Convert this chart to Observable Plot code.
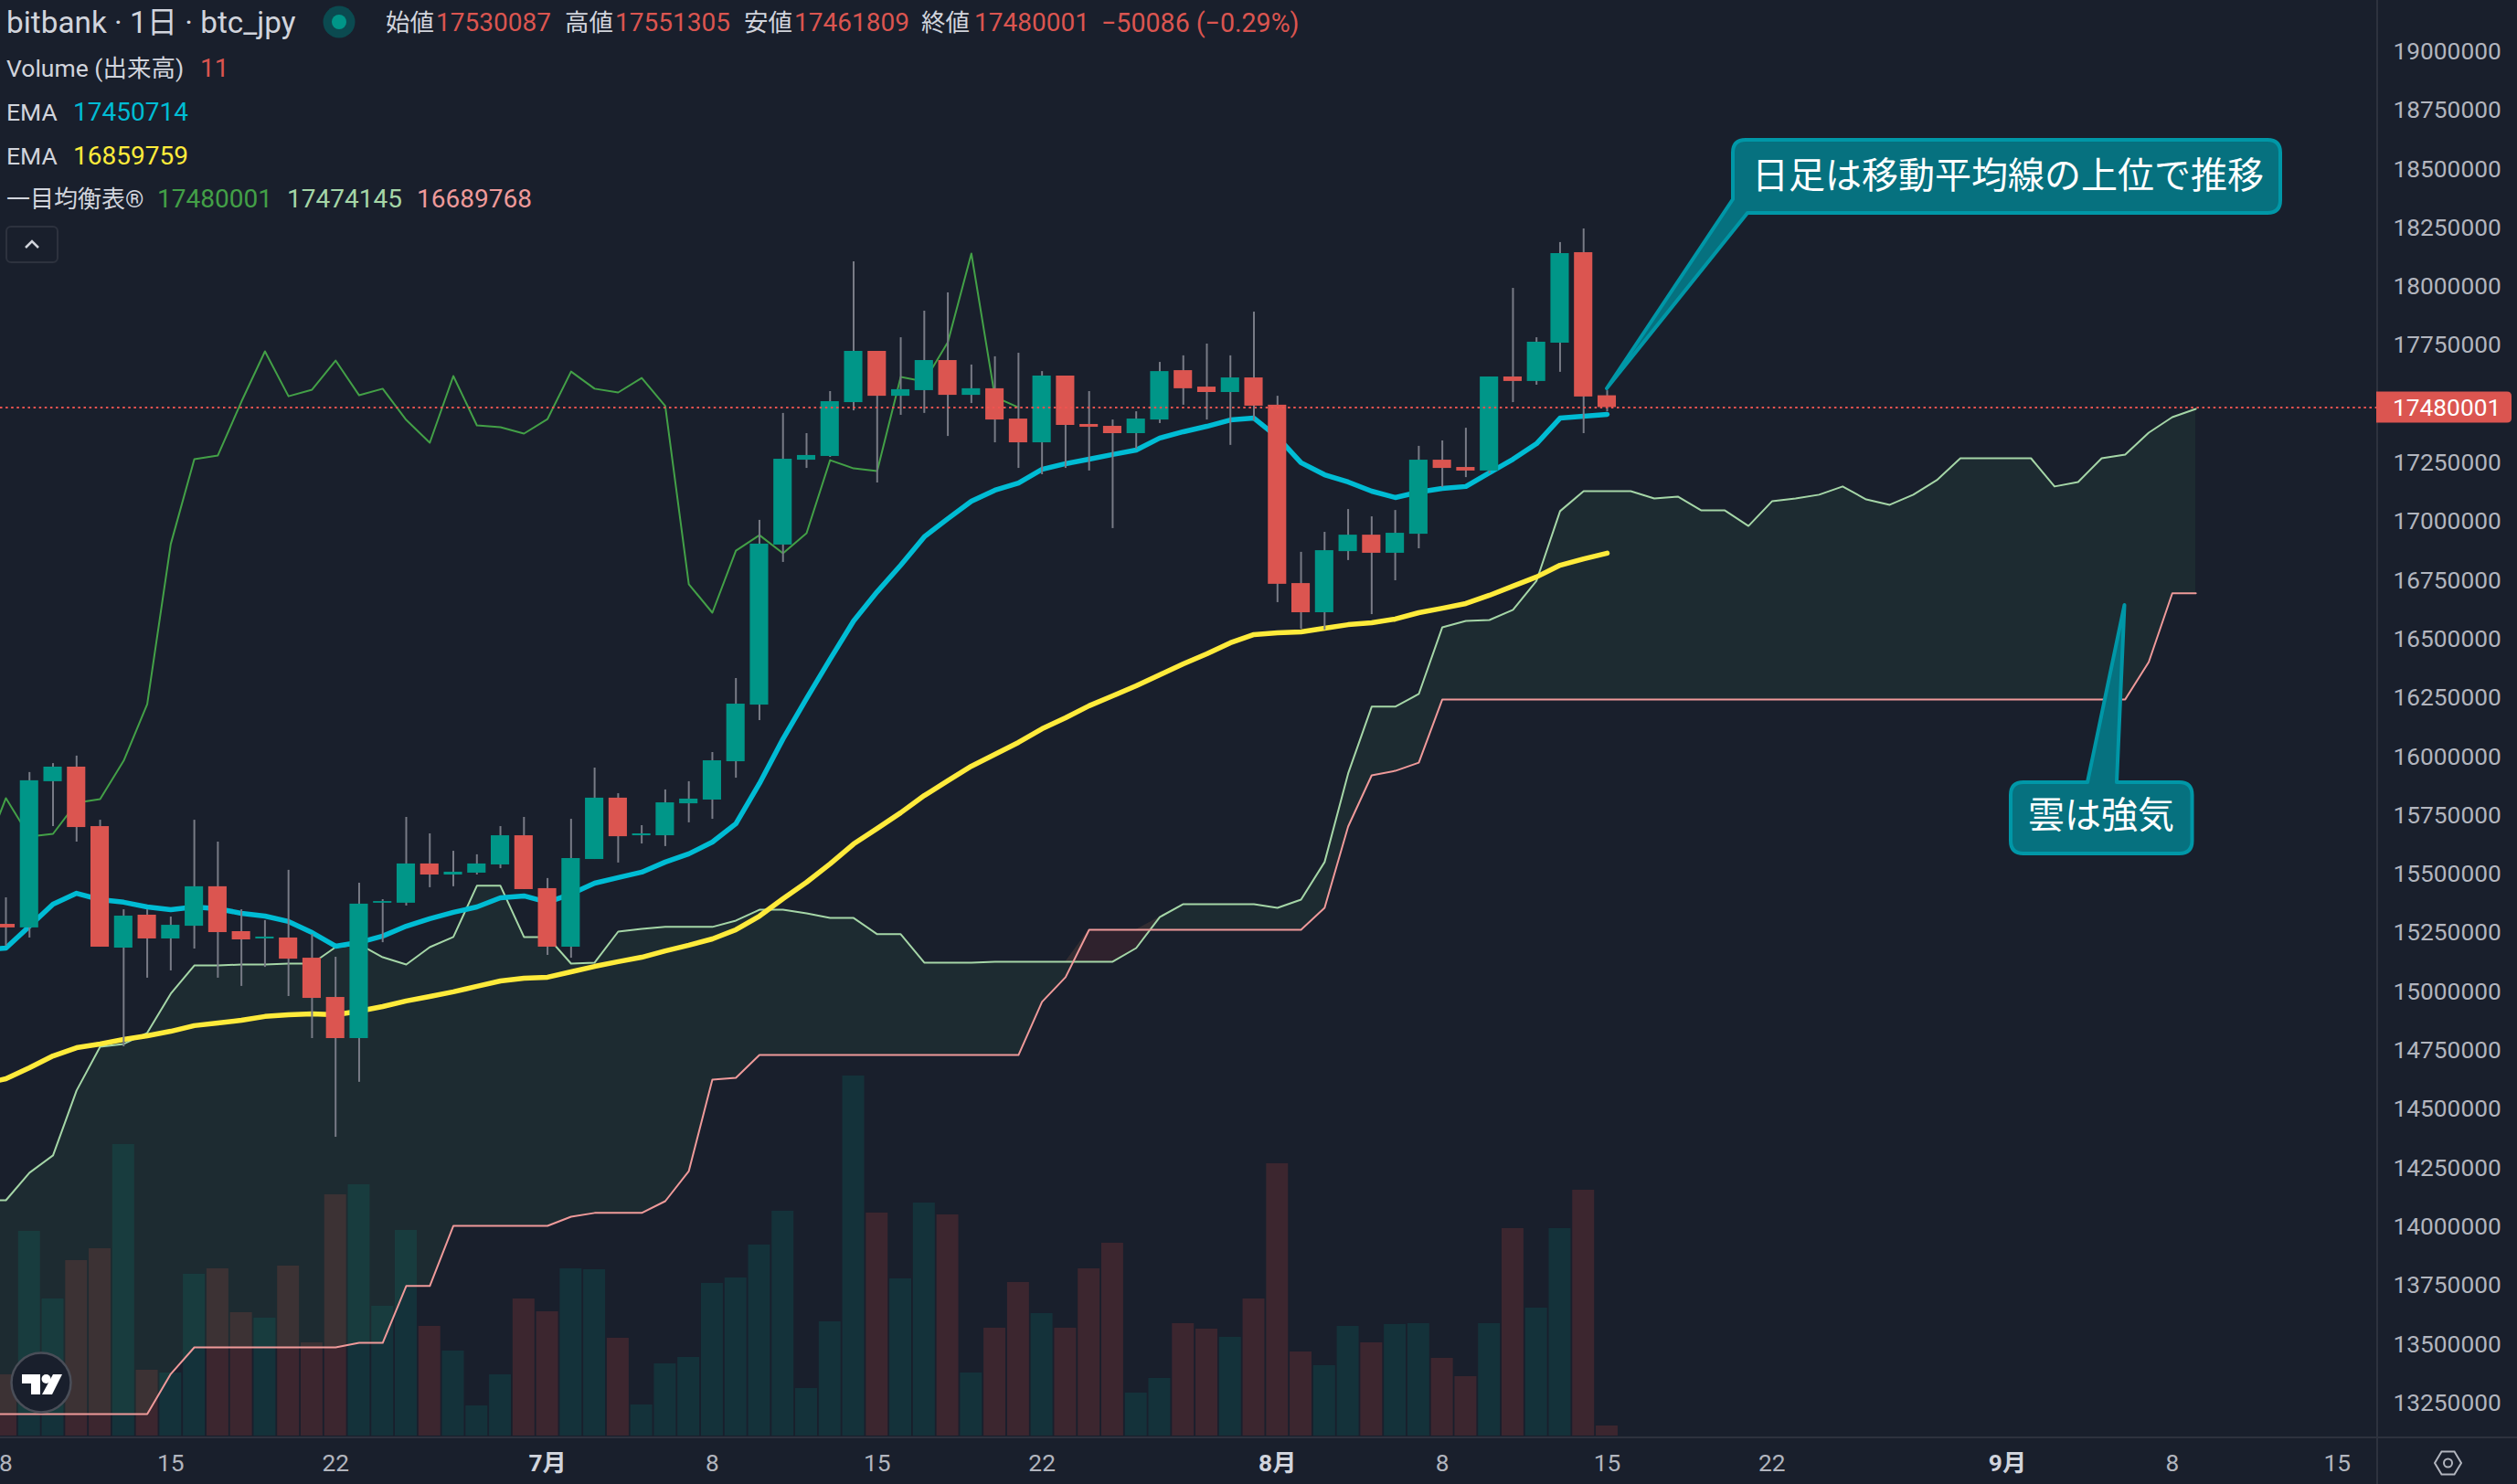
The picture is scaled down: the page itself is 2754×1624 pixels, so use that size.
<!DOCTYPE html>
<html><head><meta charset="utf-8">
<script src="https://cdn.jsdelivr.net/npm/d3@7"></script>
<script src="https://cdn.jsdelivr.net/npm/@observablehq/plot@0.6"></script>
<style>
html,body{margin:0;padding:0;background:#191f2c;overflow:hidden}
#chart{position:relative;width:2754px;height:1624px;overflow:hidden}
#chart svg{position:absolute;left:0;top:0;display:block}
.t{position:absolute;white-space:pre;line-height:1;transform:translateY(-50%);font-family:Roboto,"Noto Sans CJK JP",sans-serif}
</style></head><body><div id="chart"></div>
<script>
// Candles, thousand JPY, one per day from 2025-06-08
const openK=[15281,15266,15888,15950,15697,15180,15320,15219,15273,15441,15250,15219,15223,15137,14970,14795,15371,15371,15538,15491,15499,15534,15658,15433,15184,15557,15818,15658,15658,15794,15810,15973,16214,16895,17256,17272,17501,17719,17528,17552,17680,17532,17560,17431,17330,17614,17408,17400,17369,17427,17637,17567,17544,17606,17490,16731,16607,16867,16937,16860,16941,17256,17225,17210,17610,17591,17754,18139,17530.087];
const closeK=[15266,15892,15950,15693,15184,15316,15219,15277,15441,15246,15215,15227,15133,14966,14795,15367,15378,15538,15491,15503,15538,15658,15429,15184,15561,15818,15654,15666,15798,15814,15977,16218,16899,17260,17276,17505,17719,17528,17556,17680,17532,17560,17427,17330,17614,17404,17396,17369,17431,17633,17560,17544,17606,17486,16728,16607,16871,16937,16860,16945,17256,17221,17210,17610,17591,17758,18135,17525,17480.001];
const highK=[15394,15927,15965,15997,15724,15343,15343,15312,15724,15631,15343,15297,15511,15238,15141,15456,15386,15736,15666,15592,15577,15697,15736,15476,15728,15946,15837,15701,15853,15888,16012,16327,17000,17455,17369,17548,18100,17719,17777,17890,17968,17661,17696,17711,17633,17614,17548,17427,17462,17672,17700,17750,17700,17886,17528,16864,16949,17046,17015,17042,17315,17338,17392,17610,17987,17777,18182,18240,17551.305];
const lowK=[15188,15223,15697,15631,15184,14760,15052,15083,15176,15052,15017,15098,14974,14795,14375,14609,15203,15359,15437,15441,15491,15518,15429,15149,15137,15557,15542,15623,15612,15713,15728,15903,16148,16821,17221,17268,17466,17159,17447,17455,17357,17497,17330,17221,17194,17221,17210,16965,17303,17412,17490,17427,17319,17423,16650,16537,16533,16829,16599,16743,16879,17140,17182,17198,17501,17575,17630,17369,17461.809];
const volume=[67,224,150,192,205,319,72,69,177,183,135,129,186,102,264,275,142,225,120,93,33,67,150,136,183,182,107,34,79,86,167,173,209,246,52,125,394,244,172,255,242,69,118,168,134,118,183,211,47,63,123,117,108,150,298,92,77,120,102,122,123,85,65,123,227,140,227,269,11];
// EMA lines, thousand JPY, one per day from 2025-06-07
const emaFastK=[15172,15180,15273,15367,15413,15386,15375,15355,15343,15355,15347,15328,15316,15293,15246,15188,15204,15231,15273,15305,15332,15355,15394,15402,15375,15410,15456,15480,15503,15546,15581,15631,15709,15880,16070,16242,16409,16572,16696,16809,16930,17007,17081,17128,17159,17217,17241,17260,17280,17299,17350,17377,17400,17427,17435,17354,17245,17194,17163,17124,17097,17120,17136,17144,17202,17260,17326,17435,17443,17451];
const emaSlowK=[14601,14624,14671,14721,14756,14772,14791,14807,14826,14850,14861,14873,14889,14896,14900,14896,14912,14931,14955,14974,14994,15017,15040,15052,15056,15079,15102,15122,15141,15168,15192,15219,15258,15316,15390,15460,15538,15623,15689,15756,15829,15892,15954,16004,16055,16113,16160,16211,16253,16296,16343,16389,16432,16479,16514,16521,16525,16541,16556,16564,16580,16607,16626,16646,16681,16720,16759,16809,16836,16860];
// Ichimoku leading spans, thousand JPY, one per day from 2025-06-07
const spanAK=[14107,14107,14224,14298,14574,14760,14772,14819,14986,15106,15106,15110,15110,15114,15114,15184,15196,15141,15110,15184,15227,15445,15445,15227,15227,15114,15118,15250,15262,15270,15270,15270,15297,15343,15343,15328,15308,15308,15239,15239,15118,15118,15118,15122,15122,15122,15122,15122,15122,15180,15312,15367,15367,15367,15367,15351,15386,15546,15923,16207,16207,16261,16545,16572,16576,16619,16743,17039,17124,17124,17124,17093,17101,17042,17042,16976,17081,17093,17109,17144,17089,17066,17109,17171,17264,17264,17264,17264,17144,17163,17264,17280,17373,17439,17474.145];
const spanBK=[13197,13197,13197,13197,13197,13197,13197,13197,13368,13481,13481,13481,13481,13481,13481,13481,13500,13500,13742,13742,13998,13998,13998,13998,13998,14037,14053,14053,14053,14103,14231,14620,14628,14725,14725,14725,14725,14725,14725,14725,14725,14725,14725,14725,14725,14951,15056,15258,15258,15258,15258,15258,15258,15258,15258,15258,15258,15351,15697,15915,15934,15969,16238,16238,16238,16238,16238,16238,16238,16238,16238,16238,16238,16238,16238,16238,16238,16238,16238,16238,16238,16238,16238,16238,16238,16238,16238,16238,16238,16238,16238,16238,16397,16689.768,16689.768];
const priceTicks=[13250000,13500000,13750000,14000000,14250000,14500000,14750000,15000000,15250000,15500000,15750000,16000000,16250000,16500000,16750000,17000000,17250000,17750000,18000000,18250000,18500000,18750000,19000000];
const dayTickLabels=[["2025-06-08","8"],["2025-06-15","15"],["2025-06-22","22"],["2025-07-08","8"],["2025-07-15","15"],["2025-07-22","22"],["2025-08-08","8"],["2025-08-15","15"],["2025-08-22","22"],["2025-09-08","8"],["2025-09-15","15"]];
const monthTickLabels=[["2025-07-01","7月"],["2025-08-01","8月"],["2025-09-01","9月"]];
const LAST_PRICE=17480001, LAGGING_SHIFT=25;
const VOL_BASE=13104000, JPY_PER_VOL=3888;

const UP="#009688",DOWN="#db5550",BG="#191f2c",GRID="#2d323e",TXT="#b2b5be";
const day=d3.utcDay, start=new Date(Date.UTC(2025,5,8)), lineStart=new Date(Date.UTC(2025,5,7));
const H=43200000;
const candles=openK.map((o,i)=>{const date=day.offset(start,i);return{date,
  open:o*1000,close:closeK[i]*1000,high:highK[i]*1000,low:lowK[i]*1000,vol:volume[i],
  up:closeK[i]>=o,
  b1:new Date(+date-0.39*2*H/1),b2:new Date(+date+0.39*2*H/1),
  v1:new Date(+date-0.465*2*H),v2:new Date(+date+0.465*2*H)};});
const series=a=>a.map((v,i)=>({date:day.offset(lineStart,i),v:v*1000}));
const cloud=spanAK.map((a,i)=>({date:day.offset(lineStart,i),a:a*1000,b:spanBK[i]*1000,top:Math.max(a,spanBK[i])*1000}));
const lagging=closeK.map((c,i)=>({date:day.offset(start,i-LAGGING_SHIFT),v:c*1000})).slice(LAGGING_SHIFT-1);
const parse=d3.utcParse("%Y-%m-%d");
const lbl=new Map([...dayTickLabels,...monthTickLabels].map(([d,l])=>[+parse(d),l]));
const lineOpts=(stroke,strokeWidth)=>({x:"date",y:"v",stroke,strokeWidth,clip:true,strokeLinejoin:"round",strokeLinecap:"round"});

const plot=Plot.plot({
  width:2754,height:1624,marginLeft:0,marginRight:153,marginTop:0,marginBottom:51,
  style:{background:BG,fontFamily:"Roboto,'Noto Sans CJK JP',sans-serif",fontSize:"26.3px",color:TXT},
  x:{type:"utc",domain:[new Date("2025-06-07T18:25:00Z"),new Date("2025-09-16T17:16:00Z")],label:null},
  y:{domain:[13096000,19212000],label:null},
  marks:[
    Plot.rect(candles.filter(d=>d.up),{x1:"v1",x2:"v2",y1:VOL_BASE,y2:d=>VOL_BASE+d.vol*JPY_PER_VOL,fill:"rgba(0,150,136,.16)",clip:true}),
    Plot.rect(candles.filter(d=>!d.up),{x1:"v1",x2:"v2",y1:VOL_BASE,y2:d=>VOL_BASE+d.vol*JPY_PER_VOL,fill:"rgba(220,70,60,.18)",clip:true}),
    Plot.areaY(cloud,{x:"date",y1:"b",y2:"top",fill:"rgba(67,160,100,.1)",clip:true}),
    Plot.areaY(cloud,{x:"date",y1:"a",y2:"top",fill:"rgba(244,67,54,.1)",clip:true}),
    Plot.line(series(spanAK),lineOpts("#a5d6a7",2)),
    Plot.line(series(spanBK),lineOpts("#ef9a9a",2)),
    Plot.line(lagging,lineOpts("#43a047",2)),
    Plot.line(series(emaSlowK),lineOpts("#ffeb3b",5.5)),
    Plot.line(series(emaFastK),lineOpts("#00bcd4",5.5)),
    Plot.ruleX(candles,{x:"date",y1:"low",y2:"high",stroke:"#787b86",strokeWidth:2,clip:true}),
    Plot.rect(candles.filter(d=>d.up),{x1:"b1",x2:"b2",y1:"open",y2:"close",fill:UP,clip:true}),
    Plot.rect(candles.filter(d=>!d.up),{x1:"b1",x2:"b2",y1:"open",y2:"close",fill:DOWN,clip:true}),
    Plot.ruleY([LAST_PRICE],{stroke:"#ef5350",strokeWidth:2,strokeDasharray:"2.5 3.6"}),
    Plot.axisY(priceTicks,{anchor:"right",tickSize:0,tickPadding:17,dy:1.5,tickFormat:d=>String(d),fill:TXT,label:null,textAnchor:"start"}),
    Plot.axisX(dayTickLabels.map(d=>parse(d[0])),{anchor:"bottom",tickSize:0,tickPadding:17.5,tickFormat:d=>lbl.get(+d),fill:TXT,label:null}),
    Plot.axisX(monthTickLabels.map(d=>parse(d[0])),{anchor:"bottom",tickSize:0,tickPadding:17.5,tickFormat:d=>lbl.get(+d),fill:"#d1d4dc",fontWeight:700,label:null})
  ]
});
const root=document.getElementById("chart");
root.appendChild(plot);

// chart furniture and callouts on top of the Plot SVG
const svg=d3.select(plot);
svg.append("line").attr("x1",2601).attr("x2",2601).attr("y1",0).attr("y2",1624).attr("stroke",GRID).attr("stroke-width",2);
svg.append("line").attr("x1",0).attr("x2",2754).attr("y1",1573).attr("y2",1573).attr("stroke",GRID).attr("stroke-width",2);
const yLast=plot.scale("y").apply(LAST_PRICE);
svg.append("path").attr("d",`M2600,${yLast-17}H2743Q2748,${yLast-17} 2748,${yLast-12}V${yLast+12}Q2748,${yLast+17} 2743,${yLast+17}H2600Z`).attr("fill",DOWN);
svg.append("text").attr("x",2618).attr("y",yLast).attr("dy","0.36em").attr("text-anchor","start").attr("fill","#fff").attr("font-size",26.3).text(String(LAST_PRICE));
const hex=(cx,cy)=>`M${cx-14.5},${cy}L${cx-7},${cy-12.5}H${cx+7}L${cx+14.5},${cy}L${cx+7},${cy+12.5}H${cx-7}Z`;
svg.append("path").attr("d",hex(2678.5,1601)).attr("fill","none").attr("stroke",TXT).attr("stroke-width",2);
svg.append("circle").attr("cx",2678.5).attr("cy",1601).attr("r",4.5).attr("fill","none").attr("stroke",TXT).attr("stroke-width",2);
// logo
svg.append("circle").attr("cx",45).attr("cy",1513).attr("r",32.5).attr("fill","#191f2c").attr("stroke","#4a4e58").attr("stroke-width",2.5);
svg.append("path").attr("d","M24,1504H44V1526H34V1514H24ZM58,1504H68L57,1526H46Z").attr("fill","#fff");
svg.append("circle").attr("cx",50.5).attr("cy",1509).attr("r",5).attr("fill","#fff");
// callouts
const co=(d,tx,ty,s)=>{
  svg.append("path").attr("d",d).attr("fill","#06717f").attr("stroke","#0097a7").attr("stroke-width",4).attr("stroke-linejoin","round");
  svg.append("text").attr("x",tx).attr("y",ty).attr("dy","0.36em").attr("text-anchor","middle").attr("fill","#fff").attr("font-size",40).attr("font-family","'Noto Sans CJK JP'").text(s);
};
co("M1910,153H2481Q2495,153 2495,167V219Q2495,233 2481,233H1912L1758,425L1896,218V167Q1896,153 1910,153Z",2197,192,"日足は移動平均線の上位で推移");
co("M2214,856H2284L2324.5,662L2316,856H2384.5Q2398.5,856 2398.5,870V920Q2398.5,934 2384.5,934H2214Q2200,934 2200,920V870Q2200,856 2214,856Z",2299,892,"雲は強気");

// legend
const RED="#db5550",LT="#d1d4dc";
const t=(s,x,y,c,f=26.5)=>{const e=document.createElement("div");e.className="t";e.textContent=s;e.style.cssText=`left:${x}px;top:${y}px;color:${c};font-size:${f}px`;root.appendChild(e);};
t("bitbank · 1日 · btc_jpy",7,25,LT,33.3);
t("始値",422,25,LT);t("17530087",477,25,RED,28);
t("高値",618,25,LT);t("17551305",673,25,RED,28);
t("安値",814,25,LT);t("17461809",869,25,RED,28);
t("終値",1008,25,LT);t("17480001",1066,25,RED,28);
t("−50086 (−0.29%)",1205,25,RED,28.6);
t("Volume (出来高)",7,75,LT);t("11",219,75,RED,28);
t("EMA",7,123,LT);t("17450714",80,123,"#00bcd4",28);
t("EMA",7,171,LT);t("16859759",80,171,"#ffeb3b",28);
t("一目均衡表®",7,218,LT,26);t("17480001",172,218,"#43a047",28);t("17474145",314,218,"#a5d6a7",28);t("16689768",456,218,"#ef9a9a",28);
svg.append("circle").attr("cx",371).attr("cy",24).attr("r",17.5).attr("fill","#0b4a50");
svg.append("circle").attr("cx",371).attr("cy",24).attr("r",8).attr("fill",UP);
svg.append("rect").attr("x",7).attr("y",248).attr("width",56).attr("height",39).attr("rx",5).attr("fill","none").attr("stroke",GRID).attr("stroke-width",2);
svg.append("path").attr("d","M28,271L35,264L42,271").attr("fill","none").attr("stroke",LT).attr("stroke-width",2.5);
</script></body></html>
